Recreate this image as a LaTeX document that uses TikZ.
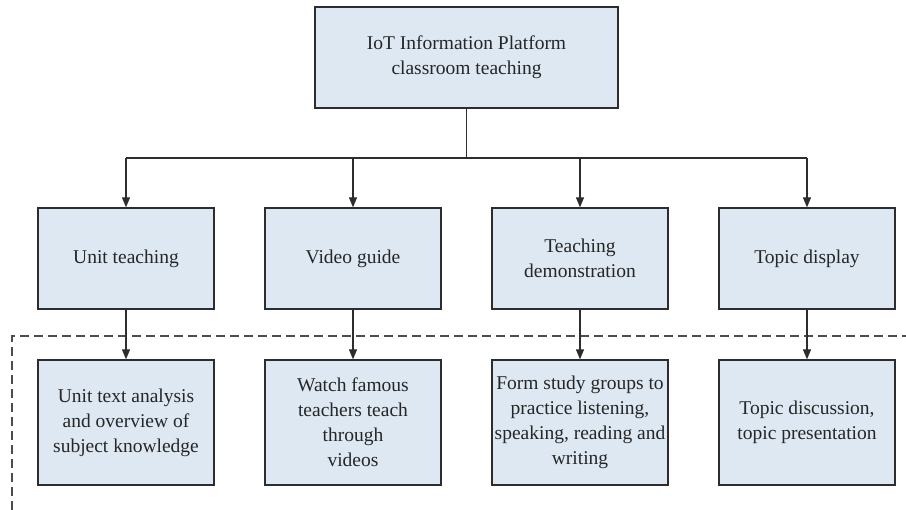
\documentclass[tikz,border=0pt]{standalone}
\usepackage{fontspec}
\setmainfont{Liberation Serif}
\usetikzlibrary{arrows.meta}
\definecolor{boxfill}{RGB}{221,232,243}
\definecolor{edge}{RGB}{45,45,45}
\begin{document}
\begin{tikzpicture}[x=1pt,y=-1pt,
  box/.style={draw=edge,line width=1.3pt,fill=boxfill,align=center,inner sep=0pt,
    font=\fontsize{19.5}{25}\selectfont,text=black!85},
  link/.style={draw=edge,line width=1.2pt},
  arr/.style={link,-{Triangle[length=10pt,width=8pt]}}]
\useasboundingbox (0,0) rectangle (906,510);
% top level
\node[box,minimum width=303pt,minimum height=101pt] (top) at (466.5,57.5)
  {IoT Information Platform\\classroom teaching};
% second level
\foreach \n/\x/\t in {m1/126/{Unit teaching},m2/353/{Video guide},
    m3/580/{Teaching\\demonstration},m4/807/{Topic display}}
  \node[box,minimum width=176pt,minimum height=101pt] (\n) at (\x,258.5) {\t};
% third level
\foreach \n/\x/\t in {b1/126/{Unit text analysis\\and overview of\\subject knowledge},
    b2/353/{Watch famous\\teachers teach\\through\\videos},
    b3/580/{Form study groups to\\practice listening,\\speaking, reading and\\writing},
    b4/807/{Topic discussion,\\topic presentation}}
  \node[box,minimum width=176pt,minimum height=125pt] (\n) at (\x,422.5) {\t};
% branching connector
\coordinate (split) at (466.5,158);
\draw[link] (top.south) -- (split);
\draw[link] (m1.north |- split) -- (m4.north |- split);
\foreach \n in {m1,m2,m3,m4}
  \draw[arr] (\n.north |- split) -- (\n.north);
% dashed frame
\coordinate (c1) at (12,510);
\coordinate (c2) at (12,336);
\coordinate (c3) at (906,336);
\draw[edge!85,line width=1.2pt,dash pattern=on 9pt off 5pt] (c1) -- (c2) -- (c3);
% vertical links
\foreach \i in {1,2,3,4}
  \draw[arr] (m\i.south) -- (b\i.north);
\end{tikzpicture}
\end{document}
